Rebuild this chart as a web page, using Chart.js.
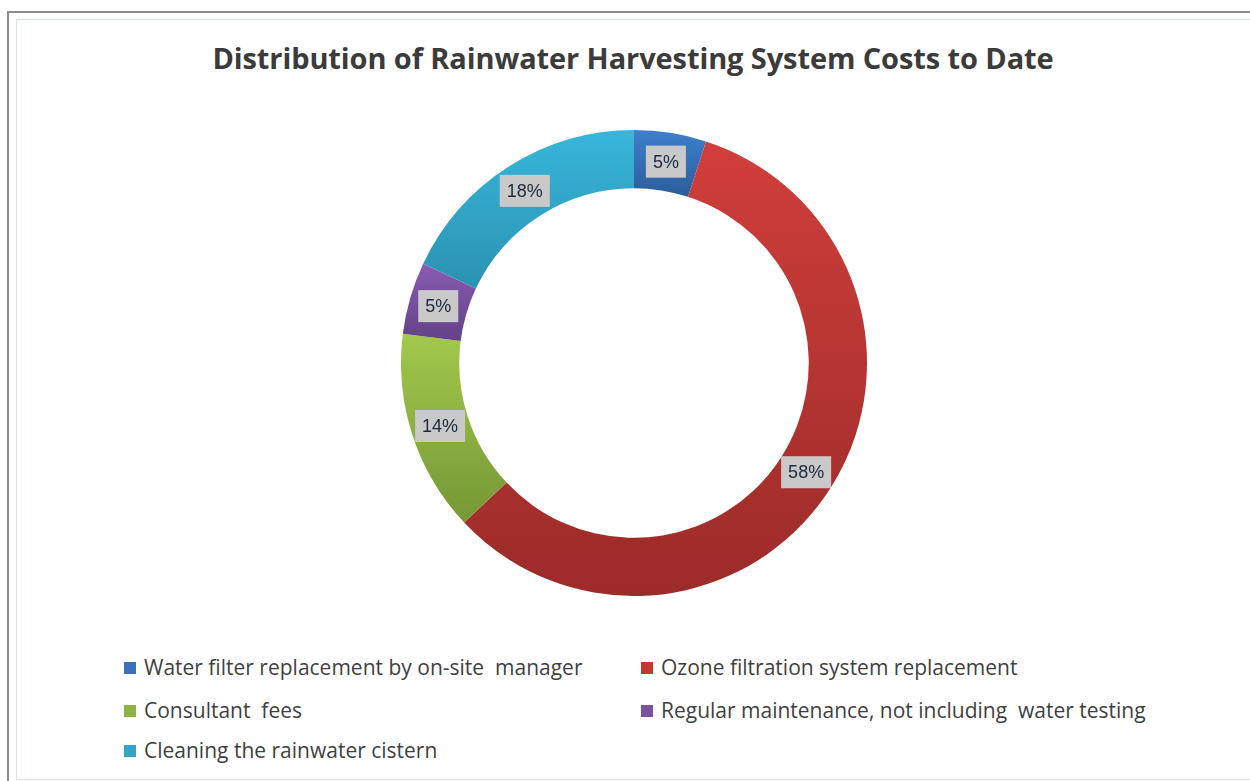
<!DOCTYPE html>
<html>
<head>
<meta charset="utf-8">
<script src="https://cdn.jsdelivr.net/npm/chart.js@4.4.1/dist/chart.umd.min.js"></script>
<style>
    body { margin: 0; width: 1250px; height: 781px; background: #fff; position: relative; overflow: hidden; }
    .frame-outer { position: absolute; left: 7px; top: 11px; width: 1260px; height: 790px; border: 2px solid #8c8c8c; }
    .frame-inner { position: absolute; left: 16px; top: 19px; width: 1250px; height: 759px; border: 1px solid #d5e1f1; }
    #title { position: absolute; left: 0; width: 1266px; top: 38px; text-align: center;
             font-family: "Open Sans", sans-serif; font-weight: bold; font-size: 29px; color: #3b3b3b; letter-spacing: -0.1px; }
    #chart-box { position: absolute; left: 401px; top: 130px; width: 466px; height: 466px; }
    .legend-item { position: absolute; font-family: "Open Sans", sans-serif; font-size: 21px; color: #3f3f3f; white-space: pre; line-height: 24px; }
    .legend-item span { display: inline-block; width: 12px; height: 12px; margin-right: 8px; vertical-align: 1px; }
</style>
</head>
<body>
<div class="frame-outer"></div>
<div class="frame-inner"></div>
<div id="title">Distribution of Rainwater Harvesting System Costs to Date</div>
<div id="chart-box"><canvas id="costChart"></canvas></div>
<div id="legend"></div>
<script>
const categories = [
    'Water filter replacement by on-site  manager',
    'Ozone filtration system replacement',
    'Consultant  fees',
    'Regular maintenance, not including  water testing',
    'Cleaning the rainwater cistern'
];
const shares = [5, 58, 14, 5, 18];

// gradient stops per slice: [topStop, topColor, bottomStop, bottomColor]
const shades = [
    [0.00, '#3d80cc', 0.14, '#2c5d9c'],
    [0.00, '#d13f3b', 1.00, '#9b2b29'],
    [0.44, '#a2c84c', 0.84, '#759836'],
    [0.28, '#8b5db2', 0.47, '#5e3f84'],
    [0.00, '#37b6db', 0.38, '#2a8eac']
];
const legendColors = ['#3a70b8', '#c0392f', '#8db342', '#7a52a0', '#33a6c8'];

// legend (two columns like the original)
const legendPos = [[124, 655], [641, 655], [124, 698], [641, 698], [124, 738]];
document.getElementById('legend').innerHTML = categories.map((c, i) =>
    `<div class="legend-item" style="left:${legendPos[i][0]}px; top:${legendPos[i][1]}px"><span style="background:${legendColors[i]}"></span>${c}</div>`
).join('');

const boxLabels = {
    id: 'boxLabels',
    afterDatasetsDraw(chart) {
        const ctx = chart.ctx;
        const meta = chart.getDatasetMeta(0);
        ctx.save();
        ctx.font = '18px "Liberation Sans", Arial, sans-serif';
        ctx.textAlign = 'center';
        ctx.textBaseline = 'middle';
        meta.data.forEach((arc, i) => {
            const p = arc.tooltipPosition();
            const txt = shares[i] + '%';
            const w = ctx.measureText(txt).width + 14;
            const h = 32;
            ctx.fillStyle = '#c9c9c9';
            ctx.fillRect(p.x - w / 2, p.y - h / 2, w, h);
            ctx.fillStyle = '#1c2a3c';
            ctx.fillText(txt, p.x, p.y + 1);
        });
        ctx.restore();
    }
};

new Chart(document.getElementById('costChart'), {
    type: 'doughnut',
    data: {
        labels: categories,
        datasets: [{
            data: shares,
            backgroundColor: (c) => {
                const area = c.chart.chartArea;
                const s = shades[c.dataIndex];
                if (!area) return s[1];
                const g = c.chart.ctx.createLinearGradient(0, area.top, 0, area.bottom);
                g.addColorStop(s[0], s[1]);
                g.addColorStop(s[2], s[3]);
                return g;
            },
            borderWidth: 0
        }]
    },
    options: {
        responsive: true,
        maintainAspectRatio: false,
        animation: false,
        cutout: '75%',
        layout: { padding: 0 },
        plugins: {
            legend: { display: false },
            tooltip: { enabled: false }
        }
    },
    plugins: [boxLabels]
});
</script>
</body>
</html>
